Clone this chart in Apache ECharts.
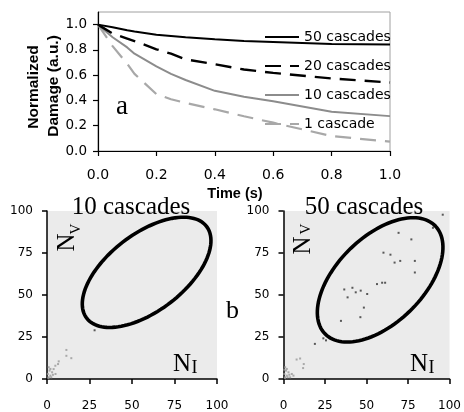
<!DOCTYPE html>
<html><head><meta charset="utf-8">
<script src="https://cdn.jsdelivr.net/npm/echarts@6/dist/echarts.min.js"></script>
<style>html,body{margin:0;padding:0;background:#fff}#c{width:464px;height:412px}</style>
</head><body><div id="c"></div>
<script>
// ---- Panel a: damage vs time ----
const time = [0, 0.05, 0.1, 0.125, 0.2, 0.25, 0.3, 0.4, 0.5, 0.6, 0.8, 1.0];
const dmg50 = [1.0, 0.98, 0.955, 0.945, 0.92, 0.91, 0.90, 0.884, 0.87, 0.863, 0.847, 0.842];
const dmg20 = [1.0, 0.93, 0.89, 0.87, 0.805, 0.77, 0.725, 0.687, 0.645, 0.618, 0.574, 0.542];
const dmg10 = [1.0, 0.90, 0.82, 0.77, 0.67, 0.61, 0.562, 0.476, 0.43, 0.393, 0.31, 0.276];
const dmg1  = [1.0, 0.83, 0.69, 0.61, 0.45, 0.41, 0.38, 0.33, 0.275, 0.224, 0.118, 0.074];
const seriesNames = ['50 cascades', '20 cascades', '10 cascades', '1 cascade'];
const timeTicks = [0, 0.2, 0.4, 0.6, 0.8, 1.0];
const damageTicks = [0, 0.2, 0.4, 0.6, 0.8, 1.0];
// ---- Panel b: N_V vs N_I ----
const nTicks = [0, 25, 50, 75, 100];
const pts10dark = [[28, 29]];
const pts10light = [[11.4, 17.3], [11.4, 13.8], [14.3, 12.4], [6.9, 10.5], [6.5, 8.9], [4.9, 7.9], [3.9, 5.9],
  [1, 1], [2, 2], [0.5, 3], [3, 4], [1.5, 5], [2.5, 1], [0.8, 0.5], [3.5, 2.5], [5, 3], [1, 7], [2, 6]];
const pts50dark = [[95.9, 97.8], [90.0, 90.0], [69.3, 87.0], [77.0, 83.1], [60.2, 75.2], [64.4, 74.0], [66.9, 69.3],
  [70.3, 70.3], [79.1, 70.3], [79.1, 63.4], [56.3, 56.5], [59.4, 57.3], [61.2, 57.3], [36.6, 53.3], [41.5, 54.3],
  [43.5, 51.6], [46.5, 52.6], [50.4, 50.6], [38.6, 48.6], [48.4, 42.5], [46.3, 36.8], [34.6, 34.6], [25.6, 23.0],
  [24.0, 24.2], [18.9, 20.9]];
const pts50light = [[7.9, 11.6], [10.0, 12.2], [12.2, 8.9], [11.8, 6.5],
  [1, 1], [2, 2], [0.5, 3], [3, 4], [1.5, 5], [2.5, 1], [0.8, 0.5], [3.5, 2.5], [5, 3], [1, 7], [2, 6], [4, 1], [6, 2], [0.5, 5.5]];
// ellipse annotations: [centerX, centerY, semiMajor, semiMinor, angleDeg]
const ellipse10 = [58.6, 63.5, 44.6, 22.8, 38];
const ellipse50 = [58.2, 59.0, 46.2, 25.8, 43.8];

const chart = echarts.init(document.getElementById('c'), null, {renderer: 'canvas'});
const sans = 'DejaVu Sans';

function ellipseItem(params, api) {
  const cx = api.value(0), cy = api.value(1), a = api.value(2), b = api.value(3), th = api.value(4) * Math.PI / 180;
  const pts = [];
  for (let k = 0; k < 120; k++) {
    const t = 2 * Math.PI * k / 120;
    const x = cx + a * Math.cos(t) * Math.cos(th) - b * Math.sin(t) * Math.sin(th);
    const y = cy + a * Math.cos(t) * Math.sin(th) + b * Math.sin(t) * Math.cos(th);
    pts.push(api.coord([x, y]));
  }
  return {type: 'polygon', shape: {points: pts}, style: {fill: 'none', stroke: '#000', lineWidth: 3.6}};
}

function bottomAxis(idx) {
  return {
    type: 'value', gridIndex: idx, min: 0, max: 100, interval: 25,
    axisLine: {show: true, lineStyle: {color: '#000', width: 1.5}},
    axisTick: {show: true, inside: false, length: 5, lineStyle: {color: '#000', width: 1.5}, customValues: nTicks},
    axisLabel: {color: '#000', fontFamily: sans, fontSize: 12, margin: 21, customValues: nTicks},
    splitLine: {show: false}
  };
}
function bottomYAxis(idx) {
  return {
    type: 'value', gridIndex: idx, min: 0, max: 100, interval: 25,
    axisLine: {show: true, lineStyle: {color: '#000', width: 1.5}},
    axisTick: {show: true, inside: false, length: 5, lineStyle: {color: '#000', width: 1.5}, customValues: nTicks},
    axisLabel: {color: '#000', fontFamily: sans, fontSize: 12, margin: 14, customValues: nTicks},
    splitLine: {show: false}
  };
}
function pair(xs, ys) { return xs.map((x, i) => [x, ys[i]]); }

const option = {
  animation: false,
  backgroundColor: '#fff',
  grid: [
    {left: 98, top: 12, width: 292, height: 139, show: true, borderColor: '#a0a0a0', borderWidth: 1, backgroundColor: 'transparent'},
    {left: 47, top: 211, width: 170, height: 169.5, show: true, borderWidth: 0, backgroundColor: '#ebebeb'},
    {left: 283.5, top: 211, width: 169.5, height: 169.5, show: true, borderWidth: 0, backgroundColor: '#ebebeb'}
  ],
  xAxis: [
    {type: 'value', gridIndex: 0, min: 0, max: 1, interval: 0.2,
     axisLine: {show: true, lineStyle: {color: '#000', width: 1.2}},
     axisTick: {show: true, length: 5, lineStyle: {color: '#000', width: 1.2}, customValues: timeTicks},
     axisLabel: {color: '#000', fontFamily: sans, fontSize: 14, margin: 17, customValues: timeTicks,
                 formatter: v => v.toFixed(1)},
     splitLine: {show: false}},
    bottomAxis(1), bottomAxis(2)
  ],
  yAxis: [
    {type: 'value', gridIndex: 0, min: 0, max: 1.1, interval: 0.2,
     axisLine: {show: true, lineStyle: {color: '#000', width: 1.2}},
     axisTick: {show: true, length: 5, lineStyle: {color: '#000', width: 1.2}, customValues: damageTicks},
     axisLabel: {color: '#000', fontFamily: sans, fontSize: 13.5, margin: 11, customValues: damageTicks,
                 formatter: v => v.toFixed(1)},
     splitLine: {show: false}},
    bottomYAxis(1), bottomYAxis(2)
  ],
  legend: {
    left: 259, top: 25, orient: 'vertical', itemWidth: 34, itemHeight: 14, itemGap: 15,
    itemStyle: {opacity: 0},
    textStyle: {fontFamily: sans, fontSize: 14, color: '#000'}, itemTextGap: 4,
    data: seriesNames
  },
  series: [
    {name: seriesNames[0], type: 'line', xAxisIndex: 0, yAxisIndex: 0, data: pair(time, dmg50), symbol: 'none',
     lineStyle: {color: '#000', width: 2}, itemStyle: {color: '#000'}, z: 5},
    {name: seriesNames[1], type: 'line', xAxisIndex: 0, yAxisIndex: 0, data: pair(time, dmg20), symbol: 'none',
     lineStyle: {color: '#000', width: 2.4, type: [16, 9]}, itemStyle: {color: '#000'}, z: 4},
    {name: seriesNames[2], type: 'line', xAxisIndex: 0, yAxisIndex: 0, data: pair(time, dmg10), symbol: 'none',
     lineStyle: {color: '#8c8c8c', width: 2}, itemStyle: {color: '#8c8c8c'}, z: 3},
    {name: seriesNames[3], type: 'line', xAxisIndex: 0, yAxisIndex: 0, data: pair(time, dmg1), symbol: 'none',
     lineStyle: {color: '#a8a8a8', width: 2.2, type: [16, 9]}, itemStyle: {color: '#a8a8a8'}, z: 2},
    {type: 'scatter', xAxisIndex: 1, yAxisIndex: 1, data: pts10light, symbol: 'rect', symbolSize: 2,
     itemStyle: {color: '#999'}, silent: true},
    {type: 'scatter', xAxisIndex: 1, yAxisIndex: 1, data: pts10dark, symbol: 'rect', symbolSize: 2,
     itemStyle: {color: '#333'}, silent: true},
    {type: 'scatter', xAxisIndex: 2, yAxisIndex: 2, data: pts50light, symbol: 'rect', symbolSize: 2,
     itemStyle: {color: '#999'}, silent: true},
    {type: 'scatter', xAxisIndex: 2, yAxisIndex: 2, data: pts50dark, symbol: 'rect', symbolSize: 2,
     itemStyle: {color: '#333'}, silent: true},
    {type: 'custom', xAxisIndex: 1, yAxisIndex: 1, data: [ellipse10], renderItem: ellipseItem, silent: true, z: 6},
    {type: 'custom', xAxisIndex: 2, yAxisIndex: 2, data: [ellipse50], renderItem: ellipseItem, silent: true, z: 6}
  ],
  graphic: [
    {type: 'text', x: 34, y: 87, rotation: Math.PI / 2, style: {text: 'Normalized', font: 'bold 15.5px "Liberation Sans"', fill: '#000', align: 'center', verticalAlign: 'middle'}},
    {type: 'text', x: 54, y: 86, rotation: Math.PI / 2, style: {text: 'Damage (a.u.)', font: 'bold 15.5px "Liberation Sans"', fill: '#000', align: 'center', verticalAlign: 'middle'}},
    {type: 'text', x: 235, y: 194, style: {text: 'Time (s)', font: 'bold 14.5px "Liberation Sans"', fill: '#000', align: 'center', verticalAlign: 'middle'}},
    {type: 'text', x: 122, y: 107, style: {text: 'a', font: '27px "Liberation Serif"', fill: '#000', align: 'center', verticalAlign: 'middle'}},
    {type: 'text', x: 131, y: 207, z: 10, style: {text: '10 cascades', font: '25px "Liberation Serif"', fill: '#000', align: 'center', verticalAlign: 'middle'}},
    {type: 'text', x: 364, y: 207, z: 10, style: {text: '50 cascades', font: '25px "Liberation Serif"', fill: '#000', align: 'center', verticalAlign: 'middle'}},
    {type: 'text', x: 226, y: 311, style: {text: 'b', font: '26px "Liberation Serif"', fill: '#000', align: 'left', verticalAlign: 'middle'}},
    {type: 'text', x: 173, y: 364.5, z: 10, style: {text: 'N', font: '25px "Liberation Serif"', fill: '#000', align: 'left', verticalAlign: 'middle'}},
    {type: 'text', x: 191.5, y: 368.5, z: 10, style: {text: 'I', font: '18px "Liberation Serif"', fill: '#000', align: 'left', verticalAlign: 'middle'}},
    {type: 'text', x: 410, y: 364.5, z: 10, style: {text: 'N', font: '25px "Liberation Serif"', fill: '#000', align: 'left', verticalAlign: 'middle'}},
    {type: 'text', x: 428.5, y: 368.5, z: 10, style: {text: 'I', font: '18px "Liberation Serif"', fill: '#000', align: 'left', verticalAlign: 'middle'}},
    {type: 'text', x: 67.5, y: 242.5, rotation: Math.PI / 2, z: 10, style: {text: 'N', font: '25px "Liberation Serif"', fill: '#000', align: 'center', verticalAlign: 'middle'}},
    {type: 'text', x: 76, y: 229, rotation: Math.PI / 2, z: 10, style: {text: 'V', font: '15px "Liberation Serif"', fill: '#000', align: 'center', verticalAlign: 'middle'}},
    {type: 'text', x: 303.5, y: 245.5, rotation: Math.PI / 2, z: 10, style: {text: 'N', font: '25px "Liberation Serif"', fill: '#000', align: 'center', verticalAlign: 'middle'}},
    {type: 'text', x: 306, y: 229, rotation: Math.PI / 2, z: 10, style: {text: 'V', font: '15px "Liberation Serif"', fill: '#000', align: 'center', verticalAlign: 'middle'}}
  ]
};
chart.setOption(option);
</script></body></html>
